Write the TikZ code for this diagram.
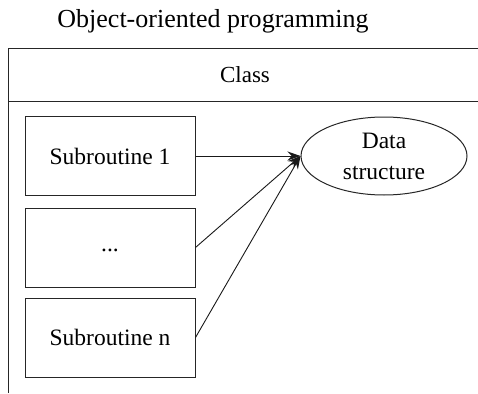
\documentclass[tikz,border=0pt]{standalone}
\usepackage{fontspec}
\setmainfont{Liberation Serif}
\usetikzlibrary{arrows.meta,shapes.geometric}
\begin{document}
\begin{tikzpicture}[x=1pt,y=-1pt,
  frame/.style={line width=1pt, draw=black!85},
  subbox/.style={draw=black!85, line width=1pt, minimum width=170pt, minimum height=79pt, inner sep=0pt, font=\fontsize{23.5}{28}\selectfont},
  datanode/.style={ellipse, draw=black!85, line width=1pt, minimum width=166pt, minimum height=78pt, inner sep=0pt, align=center, font=\fontsize{23.5}{31}\selectfont},
  link/.style={line width=0.9pt, draw=black!90, -{Stealth[length=13pt,width=9pt]}}]
\useasboundingbox (0,0) rectangle (478,393);
% title
\node (title) at (213,21) {\fontsize{26}{30}\selectfont Object-oriented programming};
% class frame, open on the right and at the bottom
\coordinate (ftl) at (8,49);
\coordinate (ftr) at (478,49);
\coordinate (fbl) at (8,393);
\coordinate (sl) at (8,101);
\coordinate (sr) at (478,101);
\draw[frame] (fbl) -- (ftl) -- (ftr);
\draw[frame] (sl) -- (sr);
\node (class) at (245,75) {\fontsize{23}{28}\selectfont Class};
% subroutines
\node[subbox] (s1) at (110,156) {Subroutine 1};
\node[subbox] (s2) at (110,247.5) {\raisebox{-8pt}{...}};
\node[subbox] (s3) at (110,337.5) {Subroutine n};
% shared data
\node[datanode] (data) at (384,156) {Data\\structure};
% access links
\draw[link] (s1.east) -- (data.west);
\draw[link] (s2.east) -- (data.west);
\draw[link] (s3.east) -- (data.west);
\end{tikzpicture}
\end{document}
